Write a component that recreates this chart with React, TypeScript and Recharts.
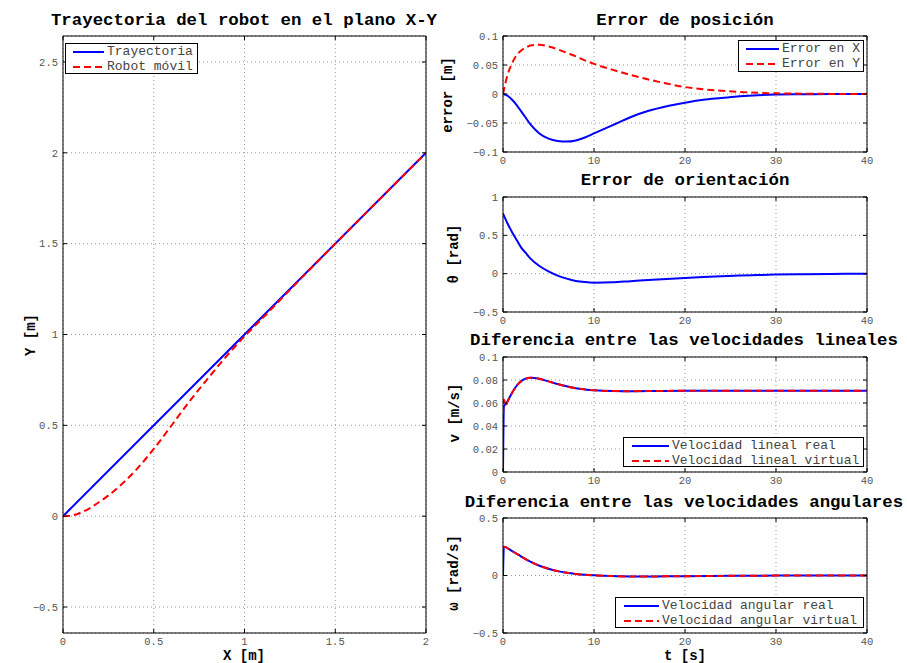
import { LineChart, Line, XAxis, YAxis, CartesianGrid, Legend } from 'recharts';

const MONO = "'Liberation Mono', 'Courier New', monospace";
const BLUE = '#0000ff';
const RED = '#ff0000';
const DASH = '7 4';

// plano X-Y
const pathX = [0, 2];
const pathY = [0, 2];
const robotX = [0, 0.05, 0.1, 0.2, 0.3, 0.4, 0.5, 0.6, 0.7, 0.8, 0.9, 1.0, 1.1, 1.2, 1.3, 1.4, 1.6, 1.8, 2.0];
const robotY = [0, 0.004, 0.02, 0.078, 0.155, 0.252, 0.37, 0.502, 0.636, 0.76, 0.88, 0.99, 1.09, 1.194, 1.297, 1.399, 1.6, 1.8, 2.0];
const xyTicksX = [0, 0.5, 1, 1.5, 2];
const xyTicksY = [-0.5, 0, 0.5, 1, 1.5, 2, 2.5];

// errores
const tErr = [0, 0.5, 1, 1.5, 2, 2.5, 3, 4, 5, 6, 7, 8, 9, 10, 12, 14, 16, 18, 20, 22, 24, 26, 28, 30, 33, 36, 40];
const errX = [0, -0.003, -0.01, -0.019, -0.03, -0.041, -0.052, -0.068, -0.077, -0.081, -0.082, -0.08, -0.075, -0.068, -0.054, -0.04, -0.029, -0.021, -0.015, -0.01, -0.007, -0.004, -0.002, -0.001, -0.0005, 0, 0];
const errY = [0, 0.033, 0.053, 0.067, 0.075, 0.08, 0.0835, 0.085, 0.082, 0.077, 0.071, 0.065, 0.058, 0.052, 0.042, 0.033, 0.025, 0.018, 0.012, 0.008, 0.0055, 0.0035, 0.002, 0.0012, 0.0005, 0.0002, 0];
const theta = [0.785, 0.655, 0.54, 0.44, 0.34, 0.27, 0.2, 0.1, 0.03, -0.025, -0.065, -0.095, -0.11, -0.117, -0.113, -0.098, -0.083, -0.068, -0.055, -0.043, -0.033, -0.025, -0.018, -0.012, -0.007, -0.003, 0];

// velocidades
const tV = [0, 0.1, 0.3, 0.6, 1, 1.5, 2, 2.5, 3, 3.5, 4, 5, 6, 7, 8, 9, 10, 12, 14, 16, 20, 25, 30, 35, 40];
const vReal = [0, 0.057, 0.059, 0.063, 0.069, 0.075, 0.079, 0.0812, 0.0819, 0.0818, 0.081, 0.0788, 0.0765, 0.0745, 0.0728, 0.0718, 0.0711, 0.0704, 0.0703, 0.0704, 0.0706, 0.0707, 0.0707, 0.0707, 0.0707];
const vVirt = [0.05, 0.063, 0.058, 0.063, 0.069, 0.075, 0.079, 0.0812, 0.0819, 0.0818, 0.081, 0.0788, 0.0765, 0.0745, 0.0728, 0.0718, 0.0711, 0.0704, 0.0703, 0.0704, 0.0706, 0.0707, 0.0707, 0.0707, 0.0707];
const tW = [0, 0.1, 1, 2, 3, 4, 5, 6, 7, 8, 9, 10, 12, 14, 16, 18, 20, 25, 30, 35, 40];
const wReal = [0, 0.25, 0.212, 0.165, 0.12, 0.085, 0.058, 0.038, 0.024, 0.014, 0.007, 0.002, -0.005, -0.008, -0.008, -0.007, -0.006, -0.003, -0.001, 0, 0];
const wVirt = [0.25, 0.25, 0.212, 0.165, 0.12, 0.085, 0.058, 0.038, 0.024, 0.014, 0.007, 0.002, -0.005, -0.008, -0.008, -0.007, -0.006, -0.003, -0.001, 0, 0];

const tTicks = [0, 10, 20, 30, 40];
const errTicks = [-0.1, -0.05, 0, 0.05, 0.1];
const thetaTicks = [-0.5, 0, 0.5, 1];
const vTicks = [0, 0.02, 0.04, 0.06, 0.08, 0.1];
const wTicks = [-0.5, 0, 0.5];

const pathData = pathX.map((x, i) => ({ x, y: pathY[i] }));
const robotData = robotX.map((x, i) => ({ x, y: robotY[i] }));
const errData = tErr.map((t, i) => ({ t, ex: errX[i], ey: errY[i], th: theta[i] }));
const vData = tV.map((t, i) => ({ t, real: vReal[i], virt: vVirt[i] }));
const wData = tW.map((t, i) => ({ t, real: wReal[i], virt: wVirt[i] }));

const fmt = (v: number) => String(v).replace('-', '\u2212');
const tickStyle = { fill: '#555', fontSize: 10.5, fontFamily: MONO };

type Series = { dataKey: string; name: string; color: string; dash?: string; data?: any[]; type?: any };
type Box = { x: number; y: number; w: number; h: number; so: number; sw: number };

function LegendBox({ items, box }: { items: Series[]; box: Box }) {
  return (
    <div style={{ width: box.w, height: box.h, boxSizing: 'border-box', border: '1px solid #000', background: '#fff', overflow: 'hidden', paddingTop: 1, whiteSpace: 'nowrap' }}>
      {items.map((s) => (
        <div key={s.name} style={{ display: 'flex', alignItems: 'center', height: 14.5 }}>
          <svg width={box.so + box.sw} height={14} style={{ flex: 'none' }}>
            <line x1={box.so} x2={box.so + box.sw} y1={7} y2={7} stroke={s.color} strokeWidth={2} strokeDasharray={s.dash} />
          </svg>
          <span style={{ marginLeft: 3, fontFamily: MONO, fontSize: 13, color: '#444', lineHeight: '14px' }}>{s.name}</span>
        </div>
      ))}
    </div>
  );
}

interface PanelProps {
  plot: [number, number, number, number];
  data?: any[];
  xKey: string;
  xDomain: [number, number];
  xTicks: number[];
  yDomain: [number, number];
  yTicks: number[];
  series: Series[];
  legend?: Box;
}

function Panel({ plot, data, xKey, xDomain, xTicks, yDomain, yTicks, series, legend }: PanelProps) {
  const [px, py, pw, ph] = plot;
  const left = px - 63;
  const top = py - 36;
  const width = pw + 63 + 40;
  const height = ph + 36 + 30;
  const axisCommon = { stroke: '#000', tickSize: -4, tickLine: true, interval: 0 as const, allowDataOverflow: true };
  return (
    <div style={{ position: 'absolute', left, top, width, height }}>
      <LineChart width={width} height={height} data={data} margin={{ top: 35, right: 39, bottom: 5, left: 13 }}>
        <CartesianGrid xAxisId="b" yAxisId="l" stroke="#999" strokeDasharray="1 3" />
        <XAxis xAxisId="b" type="number" dataKey={xKey} domain={xDomain} ticks={xTicks} orientation="bottom" height={25}
          tickMargin={9} tick={tickStyle} tickFormatter={fmt} {...axisCommon} />
        <XAxis xAxisId="t" type="number" dataKey={xKey} domain={xDomain} ticks={xTicks} orientation="top" height={1}
          tickFormatter={() => ''} {...axisCommon} />
        <YAxis yAxisId="l" type="number" domain={yDomain} ticks={yTicks} width={50}
          tickMargin={9} tick={tickStyle} tickFormatter={fmt} {...axisCommon} />
        <YAxis yAxisId="r" type="number" orientation="right" domain={yDomain} ticks={yTicks} width={1}
          tickFormatter={() => ''} {...axisCommon} />
        {series.map((s) => (
          <Line key={s.name} xAxisId="b" yAxisId="l" data={s.data} dataKey={s.dataKey} name={s.name}
            type={s.type || 'monotone'} stroke={s.color} strokeWidth={2} strokeDasharray={s.dash}
            dot={false} activeDot={false} isAnimationActive={false} connectNulls />
        ))}
        {legend && (
          <Legend layout="horizontal" verticalAlign="middle" align="center"
            wrapperStyle={{ left: legend.x - left, top: legend.y - top, width: legend.w, height: legend.h }}
            content={() => <LegendBox items={series} box={legend} />} />
        )}
      </LineChart>
    </div>
  );
}

const titleStyle = (cx: number, cy: number): any => ({
  position: 'absolute', left: cx - 250, top: cy - 10, width: 500, height: 20, lineHeight: '20px',
  textAlign: 'center', fontFamily: MONO, fontWeight: 'bold', fontSize: 17.4, color: '#000', whiteSpace: 'nowrap',
});
const labelStyle = (cx: number, cy: number, rotate = false): any => ({
  position: 'absolute', left: cx, top: cy, lineHeight: '11px', fontFamily: MONO, fontWeight: 'bold', fontSize: 14,
  color: '#000', whiteSpace: 'nowrap', transform: `translate(-50%, -50%)${rotate ? ' rotate(-90deg)' : ''}`,
});

export default function App() {
  return (
    <div style={{ position: 'absolute', left: 0, top: 0, width: 907, height: 663, background: '#fff', overflow: 'hidden' }}>
      <Panel plot={[63, 36, 363, 597]} xKey="x" xDomain={[0, 2]} xTicks={xyTicksX} yDomain={[-0.643, 2.643]} yTicks={xyTicksY}
        series={[
          { dataKey: 'y', name: 'Trayectoria', color: BLUE, data: pathData, type: 'linear' },
          { dataKey: 'y', name: 'Robot móvil', color: RED, dash: DASH, data: robotData },
        ]}
        legend={{ x: 65, y: 43, w: 133, h: 31, so: 7, sw: 31 }} />
      <Panel plot={[503, 36, 364, 116]} data={errData} xKey="t" xDomain={[0, 40]} xTicks={tTicks} yDomain={[-0.1, 0.1]} yTicks={errTicks}
        series={[
          { dataKey: 'ex', name: 'Error en X', color: BLUE },
          { dataKey: 'ey', name: 'Error en Y', color: RED, dash: DASH },
        ]}
        legend={{ x: 738, y: 40, w: 126, h: 32, so: 7, sw: 33 }} />
      <Panel plot={[503, 197, 364, 115]} data={errData} xKey="t" xDomain={[0, 40]} xTicks={tTicks} yDomain={[-0.5, 1]} yTicks={thetaTicks}
        series={[{ dataKey: 'th', name: 'Error de orientación', color: BLUE }]} />
      <Panel plot={[503, 357, 364, 115]} data={vData} xKey="t" xDomain={[0, 40]} xTicks={tTicks} yDomain={[0, 0.1]} yTicks={vTicks}
        series={[
          { dataKey: 'real', name: 'Velocidad lineal real', color: BLUE },
          { dataKey: 'virt', name: 'Velocidad lineal virtual', color: RED, dash: DASH },
        ]}
        legend={{ x: 623, y: 437, w: 241, h: 30, so: 8, sw: 37 }} />
      <Panel plot={[503, 518, 364, 115]} data={wData} xKey="t" xDomain={[0, 40]} xTicks={tTicks} yDomain={[-0.5, 0.5]} yTicks={wTicks}
        series={[
          { dataKey: 'real', name: 'Velocidad angular real', color: BLUE },
          { dataKey: 'virt', name: 'Velocidad angular virtual', color: RED, dash: DASH },
        ]}
        legend={{ x: 615, y: 597, w: 249, h: 31, so: 8, sw: 35 }} />

      <div style={titleStyle(244, 21)}>Trayectoria del robot en el plano X-Y</div>
      <div style={titleStyle(685, 21)}>Error de posición</div>
      <div style={titleStyle(685, 181)}>Error de orientación</div>
      <div style={titleStyle(684, 341)}>Diferencia entre las velocidades lineales</div>
      <div style={titleStyle(684, 503)}>Diferencia entre las velocidades angulares</div>

      <div style={labelStyle(31, 335, true)}>Y [m]</div>
      <div style={labelStyle(244, 656)}>X [m]</div>
      <div style={labelStyle(448, 95, true)}>error [m]</div>
      <div style={labelStyle(454, 254, true)}>θ [rad]</div>
      <div style={labelStyle(455, 413, true)}>v [m/s]</div>
      <div style={labelStyle(454, 573, true)}>ω [rad/s]</div>
      <div style={labelStyle(685, 656)}>t [s]</div>
    </div>
  );
}
